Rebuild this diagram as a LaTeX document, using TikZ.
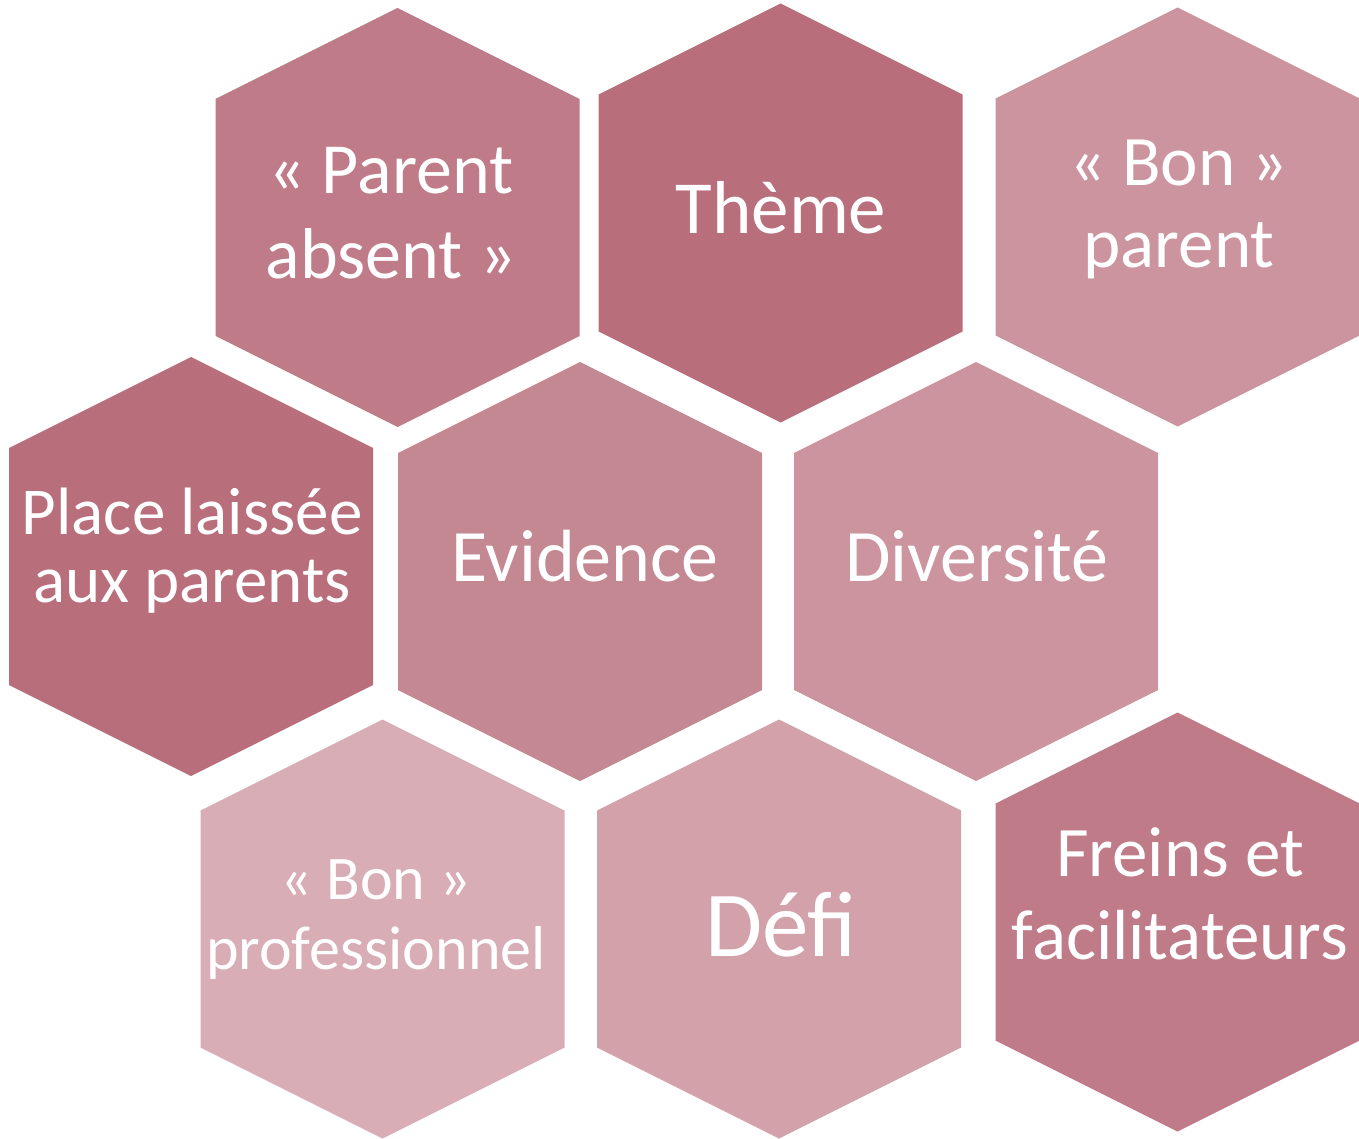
\documentclass[tikz,border=0pt]{standalone}
\usepackage{fontspec}
\setmainfont{Carlito}
\definecolor{roseA}{HTML}{B86E7B}
\definecolor{roseB}{HTML}{BF7B88}
\definecolor{roseC}{HTML}{C48892}
\definecolor{roseD}{HTML}{CB949F}
\definecolor{roseE}{HTML}{D2A1AA}
\definecolor{roseF}{HTML}{D8ADB5}
\tikzset{
  hextext/.style={text=white, align=center, inner sep=0pt}
}
\begin{document}
\begin{tikzpicture}[x=1pt,y=-1pt]
      \useasboundingbox (0,0) rectangle (1359,1139);
      \foreach \cx/\cy/\col in {397.5/217.5/roseB, 780.5/213/roseA, 1177.5/217/roseD,
          191/566.5/roseA, 580/571.5/roseC, 976/571.5/roseD,
          382.5/929/roseF, 779/929/roseE, 1177.5/922/roseB}
        \fill[\col] (\cx,\cy) +(0,-209.5) -- +(182,-118.5) -- +(182,118.5)
          -- +(0,209.5) -- +(-182,118.5) -- +(-182,-118.5) -- cycle;
      \node[hextext, font=\fontsize{72}{85}\selectfont] (absent) at (391,213) {«~Parent\\absent~»};
      \node[hextext, font=\fontsize{75}{90}\selectfont] (theme) at (781,208) {Thème};
      \node[hextext, font=\fontsize{71}{82}\selectfont] (bonparent) at (1179,209.5) {«~Bon~»\\parent};
      \node[hextext, font=\fontsize{67}{68}\selectfont] (place) at (192,551) {Place laissée\\aux parents};
      \node[hextext, font=\fontsize{74}{88}\selectfont] (evidence) at (585,556) {Evidence};
      \node[hextext, font=\fontsize{74}{88}\selectfont] (diversite) at (977,556) {Diversité};
      \node[hextext, font=\fontsize{62}{70}\selectfont] (bonpro) at (376,920) {«~Bon~»\\professionnel};
      \node[hextext, font=\fontsize{93}{110}\selectfont] (defi) at (781,925) {Défi};
      \node[hextext, font=\fontsize{71}{83}\selectfont] (freins) at (1180,894) {Freins et\\facilitateurs};
    \end{tikzpicture}
\end{document}
